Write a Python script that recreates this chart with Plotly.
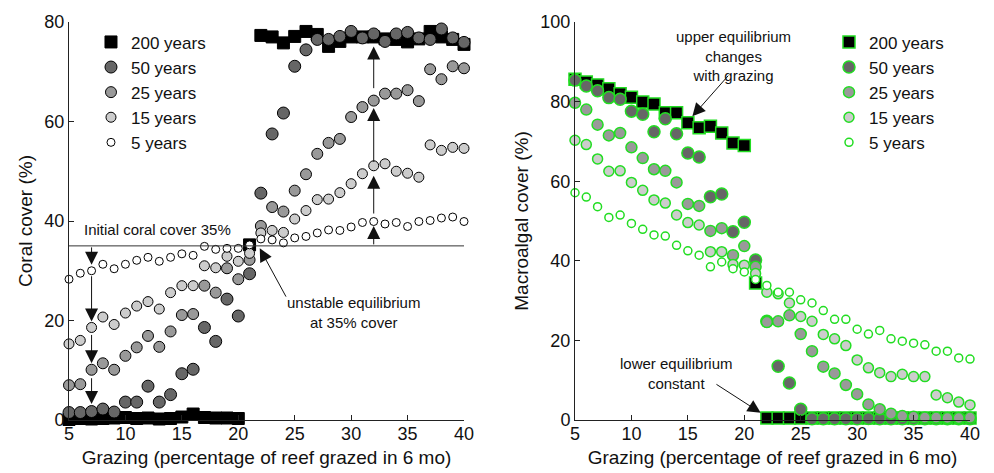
import plotly.graph_objects as go

# ---------------- data ----------------
grazing = list(range(5, 41))

series_names = ["200 years", "50 years", "25 years", "15 years", "5 years"]

coral_200 = [0.1, 0.3, 0.2, 0.3, 0.4, 0.5, 0.3, 0.4, 0.2, 0.3, 0.6, 1.2, 0.5, 0.4, 0.4, 0.3,
             35.2,
             77.3, 77.0, 75.8, 77.1, 78.1, 77.5, 75.1, 76.1, 77.0, 77.0, 77.0, 76.6, 76.5, 76.0,
             76.6, 78.1, 77.0, 76.5, 75.5]
coral_50 = [1.5, 1.5, 1.7, 2.2, 1.6, 3.6, 3.6, 6.8, 3.6, 5.1, 9.3, 10.2, 18.6, 15.8, 24.3, 20.9,
            29.4,
            45.6, 57.5, 61.7, 71.1, 74.4, 76.5, 76.5, 77.1, 78.1, 76.8, 77.6, 76.1, 77.6, 77.9,
            76.8, 76.5, 78.6, 76.8, 75.9]
coral_25 = [7.0, 7.2, 10.1, 11.4, 10.1, 12.9, 14.6, 16.9, 14.7, 17.8, 21.1, 21.3, 27.0, 25.6, 30.5, 28.3,
            32.2,
            39.0, 42.8, 41.9, 46.1, 49.4, 53.5, 55.7, 56.5, 60.9, 62.9, 64.2, 65.6, 65.6, 66.3,
            64.1, 70.5, 68.5, 71.1, 70.7]
coral_15 = [15.3, 16.0, 18.6, 20.7, 19.2, 21.5, 22.9, 23.8, 22.3, 25.6, 27.0, 27.0, 31.0, 30.6, 32.9, 31.9,
            33.5,
            37.6, 38.1, 37.7, 40.4, 42.1, 44.3, 44.4, 45.7, 47.5, 49.5, 51.1, 51.5, 50.0, 49.6,
            48.8, 55.3, 54.2, 54.8, 54.6]
coral_5 = [28.3, 29.5, 30.0, 31.3, 30.4, 31.3, 32.1, 32.7, 31.9, 32.7, 33.4, 33.1, 34.9, 34.3, 34.5, 34.5,
           35.2,
           36.4, 36.2, 35.6, 36.6, 36.9, 37.6, 38.2, 38.1, 38.8, 39.7, 39.9, 39.4, 39.7, 38.9,
           39.9, 40.1, 40.6, 40.8, 39.9]

algae_200 = [85.6, 84.9, 84.2, 83.2, 82.0, 81.1, 79.9, 79.4, 77.2, 77.2, 74.7, 73.4, 73.8, 72.1, 69.6, 69.0,
             34.4,
             0.5, 0.5, 0.5, 0.5, 0.5, 0.5, 0.5, 0.5, 0.5, 0.5, 0.5, 0.5, 0.5, 0.5,
             0.5, 0.5, 0.5, 0.5, 0.5]
algae_50 = [85.4, 83.9, 82.7, 81.0, 80.6, 77.6, 76.8, 72.4, 75.7, 71.9, 67.1, 66.1, 56.1, 56.8, 47.3, 49.7,
            40.2,
            24.8, 13.5, 9.3, 2.7, 0.3, 0.3, 0.3, 0.3, 0.3, 0.4, 0.3, 0.3, 0.3, 0.3,
            0.3, 0.3, 0.3, 0.3, 0.3]
algae_25 = [79.7, 78.0, 74.2, 71.5, 72.1, 68.5, 65.8, 63.0, 62.6, 59.7, 54.3, 53.8, 47.5, 48.2, 41.4, 43.7,
            38.5,
            24.6, 24.8, 26.3, 21.6, 17.3, 13.4, 11.7, 8.8, 6.5, 3.9, 2.7, 1.6, 1.0, 0.8,
            0.6, 0.6, 0.5, 0.5, 0.6]
algae_15 = [70.3, 69.2, 65.6, 62.5, 62.6, 59.7, 57.7, 55.3, 54.5, 51.5, 49.6, 49.0, 42.3, 42.3, 39.1, 38.9,
            36.8,
            32.1, 31.7, 29.4, 26.0, 24.8, 21.5, 20.4, 18.7, 15.1, 13.1, 11.9, 10.9, 11.5, 10.9,
            10.9, 6.3, 5.6, 4.5, 3.8]
algae_5 = [57.1, 56.0, 53.6, 50.9, 51.5, 49.4, 47.9, 46.5, 46.2, 43.9, 42.5, 41.4, 38.5, 39.7, 38.0, 37.2,
           35.3,
           33.8, 32.1, 32.1, 30.2, 29.4, 27.5, 25.3, 25.3, 22.8, 21.6, 22.5, 20.4, 19.8, 19.3,
           18.9, 17.3, 17.3, 15.6, 15.3]

coral_series = [coral_200, coral_50, coral_25, coral_15, coral_5]
algae_series = [algae_200, algae_50, algae_25, algae_15, algae_5]

# ---------------- styles ----------------
FONT = "Liberation Sans, Arial, Helvetica, sans-serif"
fills = ["#000000", "#666666", "#999999", "#cccccc", "#ffffff"]
symbols = ["square", "circle", "circle", "circle", "circle"]
sizes = [12, 12, 11, 10, 8]
GREEN = "#22dd22"

fig = go.Figure()

for name, vals, fc, sym, sz in zip(series_names, coral_series, fills, symbols, sizes):
    fig.add_trace(go.Scatter(
        x=grazing, y=vals, mode="markers", name=name, cliponaxis=False,
        marker=dict(symbol=sym, size=sz, color=fc, line=dict(color="#000000", width=1)),
        xaxis="x", yaxis="y", legend="legend"))

for name, vals, fc, sym, sz in zip(series_names, algae_series, fills, symbols, sizes):
    fig.add_trace(go.Scatter(
        x=grazing, y=vals, mode="markers", name=name, cliponaxis=False,
        marker=dict(symbol=sym, size=sz, color=fc, line=dict(color=GREEN, width=1.5)),
        xaxis="x2", yaxis="y2", legend="legend2"))

axis_common = dict(showline=True, linecolor="#222", linewidth=1, ticks="inside", ticklen=5,
                   tickcolor="#222", showgrid=False, zeroline=False, automargin=False,
                   tickfont=dict(size=18, color="#111", family=FONT),
                   title_font=dict(size=19, color="#111", family=FONT))

# the page body has an 8px margin; figure is sized so that its visible part fills the window
fig.update_layout(
    width=986, height=465,
    margin=dict(l=61, r=24, t=14, b=53, autoexpand=False),
    paper_bgcolor="white", plot_bgcolor="white",
    font=dict(family=FONT, color="#111"),
    xaxis=dict(domain=[0, 0.4384], range=[5, 40], tickvals=[5, 10, 15, 20, 25, 30, 35, 40],
               ticklabelstandoff=-3,
               title=dict(text="Grazing (percentage of reef grazed in 6 mo)", standoff=8),
               anchor="y", **axis_common),
    yaxis=dict(domain=[0, 1], range=[0, 80], tickvals=[0, 20, 40, 60, 80],
               title=dict(text="Coral cover (%)", standoff=6), anchor="x", **axis_common),
    xaxis2=dict(domain=[0.5616, 1], range=[5, 40], tickvals=[5, 10, 15, 20, 25, 30, 35, 40],
                ticklabelstandoff=-3,
                title=dict(text="Grazing (percentage of reef grazed in 6 mo)", standoff=8),
                anchor="y2", **axis_common),
    yaxis2=dict(domain=[0, 1], range=[0, 100], tickvals=[0, 20, 40, 60, 80, 100],
                title=dict(text="Macroalgal cover (%)", standoff=6), anchor="x2", **axis_common),
    legend=dict(x=0.0244, y=0.994, xanchor="left", yanchor="top", bgcolor="rgba(0,0,0,0)",
                font=dict(size=17, family=FONT, color="#111"), itemsizing="trace",
                tracegroupgap=0),
    legend2=dict(x=0.8435, y=0.994, xanchor="left", yanchor="top", bgcolor="rgba(0,0,0,0)",
                 font=dict(size=17, family=FONT, color="#111"), itemsizing="trace",
                 tracegroupgap=0),
    showlegend=True,
)

# horizontal line: initial coral cover
fig.add_shape(type="line", xref="x", yref="y", x0=5, x1=40, y0=35, y1=35,
              line=dict(color="#333", width=1))

ann_font = dict(size=15, family=FONT, color="#111")
fig.add_annotation(xref="x", yref="y", x=12.84, y=38.2, text="Initial coral cover 35%",
                   showarrow=False, font=ann_font)
fig.add_annotation(xref="x", yref="y", x=30.2, y=21.7, text="unstable equilibrium<br>at 35% cover",
                   showarrow=False, font=ann_font)
fig.add_annotation(xref="x2", yref="y2", x=19.0, y=91.4,
                   text="upper equilibrium<br>changes<br>with grazing",
                   showarrow=False, font=ann_font)
fig.add_annotation(xref="x2", yref="y2", x=14.0, y=11.6, text="lower equilibrium<br>constant",
                   showarrow=False, font=ann_font)

# arrows (head x,y ; tail ax,ay)
left_arrows = [
    (7, 31.2, 7, 35.0), (7, 19.8, 7, 29.2), (7, 11.4, 7, 17.4), (7, 3.2, 7, 8.7),
    (32, 39.0, 32, 35.0), (32, 49.1, 32, 41.2), (32, 62.7, 32, 51.6), (32, 75.1, 32, 66.4),
    (21.9, 34.5, 24.3, 24.5),
]
for hx, hy, tx, ty in left_arrows:
    fig.add_annotation(xref="x", yref="y", axref="x", ayref="y", x=hx, y=hy, ax=tx, ay=ty,
                       text="", showarrow=True, arrowhead=2, arrowsize=2.6, arrowwidth=1,
                       arrowcolor="#111", standoff=0)

right_arrows = [(15.4, 76.3, 18.7, 86.9), (21.45, 1.8, 17.4, 9.2)]
for hx, hy, tx, ty in right_arrows:
    fig.add_annotation(xref="x2", yref="y2", axref="x2", ayref="y2", x=hx, y=hy, ax=tx, ay=ty,
                       text="", showarrow=True, arrowhead=2, arrowsize=2.6, arrowwidth=1,
                       arrowcolor="#111", standoff=0)

fig.write_html("out.html")
